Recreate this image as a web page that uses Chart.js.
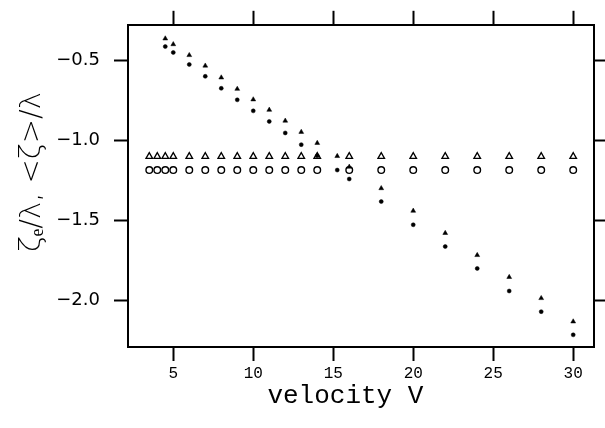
<!DOCTYPE html>
<html>
<head>
<meta charset="utf-8">
<script src="https://cdn.jsdelivr.net/npm/chart.js@4/dist/chart.umd.min.js"></script>
<style>
  html, body { margin: 0; padding: 0; background: #fff; }
  #wrap { width: 605px; height: 428px; }
</style>
</head>
<body>
<div id="wrap"><canvas id="chart" width="605" height="428"></canvas></div>
<script>
// ---- data ----
// open markers: flat reference levels
const velocityOpen = [3.5, 4, 4.5, 5, 6, 7, 8, 9, 10, 11, 12, 13, 14, 16, 18, 20, 22, 24, 26, 28, 30];
const zetaOpenTri = [-1.10, -1.10, -1.10, -1.10, -1.10, -1.10, -1.10, -1.10, -1.10, -1.10, -1.10,
  -1.10, -1.10, -1.10, -1.10, -1.10, -1.10, -1.10, -1.10, -1.10, -1.10];
const zetaOpenCirc = [-1.185, -1.185, -1.185, -1.185, -1.185, -1.185, -1.185, -1.185, -1.185, -1.185, -1.185,
  -1.185, -1.185, -1.185, -1.185, -1.185, -1.185, -1.185, -1.185, -1.185, -1.185];

// filled markers: descending pair
const velocityFilled = [4.5, 5, 6, 7, 8, 9, 10, 11, 12, 13, 14, 15.25, 16, 18, 20, 22, 24, 26, 28, 30];
const zetaFilledTri = [-0.363, -0.399, -0.467, -0.533, -0.607, -0.678, -0.744, -0.809, -0.877, -0.947,
  -1.016, -1.098, -1.165, -1.299, -1.44, -1.579, -1.717, -1.854, -1.986, -2.132];
const zetaFilledCirc = [-0.413, -0.45, -0.525, -0.599, -0.674, -0.746, -0.815, -0.881, -0.953, -1.026,
  -1.096, -1.185, -1.241, -1.382, -1.527, -1.663, -1.80, -1.941, -2.07, -2.215];

const X_MIN = 2.17, X_MAX = 31.3;
const Y_MIN = -2.291, Y_MAX = -0.277;

// ---- helpers ----
function pts(xs, ys) {
  return xs.map((x, i) => ({ x: x, y: ys[i] }));
}

function fixSize(prop, val) {
  return function (scale) { scale[prop] = val; };
}

const gridOpts = {
  drawOnChartArea: false,
  drawTicks: true,
  tickLength: 14,
  tickWidth: 2,
  color: "#000",
};
const borderOpts = { display: true, width: 2, color: "#000" };

// ---- chart ----
new Chart(document.getElementById("chart"), {
  type: "scatter",
  data: {
    datasets: [
      {
        data: pts(velocityFilled, zetaFilledTri),
        pointStyle: "triangle",
        radius: 2.8,
        backgroundColor: "#000",
        borderColor: "#000",
        borderWidth: 0.5,
      },
      {
        data: pts(velocityFilled, zetaFilledCirc),
        pointStyle: "circle",
        radius: 2,
        backgroundColor: "#000",
        borderColor: "#000",
        borderWidth: 0.5,
      },
      {
        data: pts(velocityOpen, zetaOpenTri),
        pointStyle: "triangle",
        radius: 3.8,
        backgroundColor: "rgba(0,0,0,0)",
        borderColor: "#000",
        borderWidth: 1.3,
      },
      {
        data: pts(velocityOpen, zetaOpenCirc),
        pointStyle: "circle",
        radius: 3.3,
        backgroundColor: "rgba(0,0,0,0)",
        borderColor: "#000",
        borderWidth: 1.4,
      },
    ],
  },
  options: {
    responsive: false,
    animation: false,
    layout: { padding: 0 },
    plugins: {
      legend: { display: false },
      tooltip: { enabled: false },
    },
    scales: {
      x: {
        type: "linear",
        position: "bottom",
        min: X_MIN,
        max: X_MAX,
        grid: gridOpts,
        border: borderOpts,
        ticks: {
          stepSize: 5,
          includeBounds: false,
          color: "#000",
          padding: 3,
          maxRotation: 0,
          font: { family: "Liberation Mono", size: 16 },
        },
        title: {
          display: true,
          text: "velocity V  ",
          color: "#000",
          font: { family: "Liberation Mono", size: 26 },
          padding: { top: 0, bottom: 16 },
        },
        afterFit: fixSize("height", 81),
      },
      x2: {
        type: "linear",
        position: "top",
        min: X_MIN,
        max: X_MAX,
        grid: gridOpts,
        border: borderOpts,
        ticks: { display: false, stepSize: 5, includeBounds: false },
        afterFit: fixSize("height", 22),
      },
      y: {
        type: "linear",
        position: "left",
        min: Y_MIN,
        max: Y_MAX,
        grid: gridOpts,
        border: borderOpts,
        ticks: {
          stepSize: 0.5,
          includeBounds: false,
          color: "#000",
          padding: 14,
          font: { family: "DejaVu Sans", size: 18 },
          callback: (v) => "\u2212" + Math.abs(v).toFixed(1),
        },
        title: {
          display: true,
          text: "   \u03b6\u2091/\u03bb, <\u03b6>/\u03bb",
          color: "#000",
          font: { family: "DejaVu Sans", size: 29, weight: "200" },
          padding: { top: 15, bottom: 0 },
        },
        afterFit: fixSize("width", 128),
      },
      y2: {
        type: "linear",
        position: "right",
        min: Y_MIN,
        max: Y_MAX,
        grid: gridOpts,
        border: borderOpts,
        ticks: { display: false, stepSize: 0.5, includeBounds: false },
        afterFit: fixSize("width", 11),
      },
    },
  },
});
</script>
</body>
</html>
